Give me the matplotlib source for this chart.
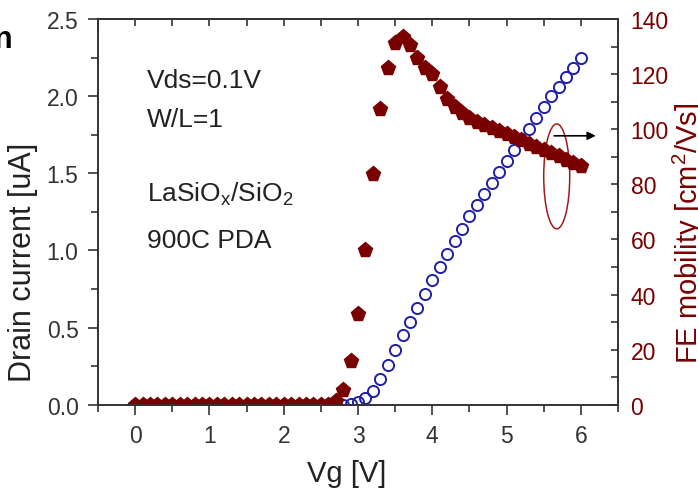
"""
plot.py
=======
Transfer curve of a LaSiO_x/SiO_2 MOSFET: drain current and field-effect
mobility versus gate voltage, drawn on twin y axes.
"""

import matplotlib
matplotlib.use("Agg")
import matplotlib.pyplot as plt
from matplotlib.patches import Ellipse
from matplotlib.ticker import MultipleLocator

plt.rcParams["font.family"] = ["Liberation Sans", "DejaVu Sans"]
plt.rcParams["mathtext.fontset"] = "custom"
plt.rcParams["mathtext.rm"] = "Liberation Sans"

# ── data ───────────────────────────────────────────────────────────────────
vg = [0.0, 0.1, 0.2, 0.3, 0.4, 0.5, 0.6, 0.7, 0.8, 0.9,
      1.0, 1.1, 1.2, 1.3, 1.4, 1.5, 1.6, 1.7, 1.8, 1.9,
      2.0, 2.1, 2.2, 2.3, 2.4, 2.5, 2.6, 2.7, 2.8, 2.9,
      3.0, 3.1, 3.2, 3.3, 3.4, 3.5, 3.6, 3.7, 3.8, 3.9,
      4.0, 4.1, 4.2, 4.3, 4.4, 4.5, 4.6, 4.7, 4.8, 4.9,
      5.0, 5.1, 5.2, 5.3, 5.4, 5.5, 5.6, 5.7, 5.8, 5.9, 6.0]

drain_current = [0.0, 0.0, 0.0, 0.0, 0.0, 0.0, 0.0, 0.0, 0.0, 0.0,
                 0.0, 0.0, 0.0, 0.0, 0.0, 0.0, 0.0, 0.0, 0.0, 0.0,
                 0.0, 0.0, 0.0, 0.0, 0.0, 0.0, 0.0, 0.0, 0.0, 0.005,
                 0.02, 0.045, 0.09, 0.165, 0.255, 0.352, 0.45, 0.535, 0.63, 0.72,
                 0.81, 0.893, 0.975, 1.06, 1.14, 1.22, 1.295, 1.365, 1.435, 1.51,
                 1.58, 1.65, 1.72, 1.79, 1.86, 1.93, 2.0, 2.06, 2.125, 2.185, 2.245]

fe_mobility = [0.0, 0.0, 0.0, 0.0, 0.0, 0.0, 0.0, 0.0, 0.0, 0.0,
               0.0, 0.0, 0.0, 0.0, 0.0, 0.0, 0.0, 0.0, 0.0, 0.0,
               0.0, 0.0, 0.0, 0.0, 0.0, 0.0, 0.0, 1.5, 5.5, 15.8,
               33.0, 56.3, 83.9, 107.3, 122.3, 131.2, 133.6, 130.5, 125.7, 122.1,
               119.9, 115.4, 110.8, 108.1, 105.8, 104.0, 102.6, 101.4, 100.3, 99.2,
               98.2, 97.1, 96.0, 94.8, 93.6, 92.4, 91.2, 90.1, 89.0, 87.9, 86.8]

BLUE = "#1f1fa8"
MAROON = "#7a0000"
AXIS_GREY = "#333333"

fig = plt.figure(figsize=(6.98, 4.89), dpi=100)
ax = fig.add_axes([0.1404, 0.1703, 0.745, 0.7888])
ax2 = ax.twinx()

# ── drain current (left axis) ───────────────────────────────────────────────
ax.plot(vg, drain_current, linestyle="none", marker="o", markersize=8,
        markerfacecolor="none", markeredgecolor=BLUE, markeredgewidth=1.4)
ax.set_xlim(-0.5, 6.5)
ax.set_ylim(0, 2.5)
ax.xaxis.set_major_locator(MultipleLocator(1))
ax.xaxis.set_minor_locator(MultipleLocator(0.5))
ax.yaxis.set_major_locator(MultipleLocator(0.5))
ax.yaxis.set_minor_locator(MultipleLocator(0.25))
ax.tick_params(axis="both", which="major", direction="out", length=7, width=1.2,
               color=AXIS_GREY, labelcolor=AXIS_GREY, labelsize=16.5, pad=7)
ax.tick_params(axis="both", which="minor", direction="out", length=5, width=1.2,
               color=AXIS_GREY)
ax.tick_params(axis="y", right=False, which="both")
ax.tick_params(axis="x", top=False, which="both")

# top ticks point inward, every 0.5 V
top = ax.secondary_xaxis("top")
top.xaxis.set_major_locator(MultipleLocator(0.5))
top.tick_params(direction="in", length=5, width=1.2, color=AXIS_GREY,
                labeltop=False)

# ── FE mobility (right axis) ────────────────────────────────────────────────
ax2.plot(vg, fe_mobility, linestyle="none", marker="p", markersize=11,
         color=MAROON, markeredgecolor=MAROON)
ax2.set_ylim(0, 140)
ax2.yaxis.set_major_locator(MultipleLocator(20))
ax2.yaxis.set_minor_locator(MultipleLocator(10))
ax2.tick_params(axis="y", which="major", direction="in", length=5, width=1.2,
                color=AXIS_GREY, labelcolor=MAROON, labelsize=16.5, pad=9)
ax2.tick_params(axis="y", which="minor", direction="in", length=5, width=1.2,
                color=AXIS_GREY)

for a in (ax, ax2):
    for sp in a.spines.values():
        sp.set_color(AXIS_GREY)
        sp.set_linewidth(1.2)
top.spines["top"].set_color(AXIS_GREY)
top.spines["top"].set_linewidth(1.2)

# ── annotation: ellipse around mobility curve, arrow to the right axis ─────
ax.add_patch(Ellipse((5.675, 1.48), 0.35, 0.68, fill=False,
                     edgecolor="#a01c1c", linewidth=1.1, zorder=5))
ax.annotate("", xy=(6.2, 1.743), xytext=(5.64, 1.743),
            arrowprops=dict(arrowstyle="-|>", color="black", lw=1.2,
                            mutation_scale=12, shrinkA=0, shrinkB=0),
            zorder=6)

# ── labels ─────────────────────────────────────────────────────────────────
fig.text(0.496, 0.031, "Vg [V]", ha="center", va="center",
         fontsize=21, color="#222222")
fig.text(0.033, 0.464, "Drain current [uA]", ha="center", va="center",
         rotation=90, fontsize=22, color="#222222")
fig.text(0.986, 0.523, r"FE mobility [cm$^2$/Vs]", ha="center", va="center",
         rotation=90, fontsize=21, color=MAROON)

text_kw = dict(ha="left", va="baseline", fontsize=19, color="#222222")
fig.text(0.2106, 0.820, "Vds=0.1V", **text_kw)
fig.text(0.2106, 0.741, "W/L=1", **text_kw)
fig.text(0.2106, 0.588, r"LaSiO$_\mathregular{x}$/SiO$_\mathregular{2}$", **text_kw)
fig.text(0.2106, 0.493, "900C PDA", **text_kw)

# cropped heading fragment at top-left edge
fig.text(0.018, 0.902, "n", ha="right", va="baseline", fontsize=22,
         fontweight="bold", color="black")

fig.savefig("out.png", dpi=100, facecolor="white")
